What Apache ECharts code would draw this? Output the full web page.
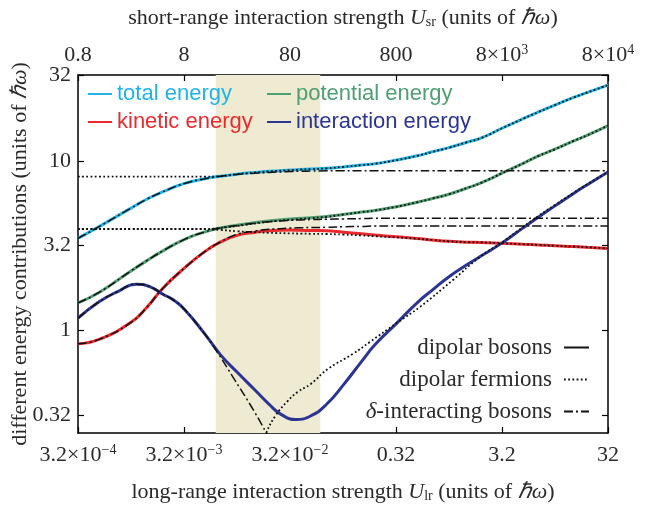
<!DOCTYPE html>
<html><head><meta charset="utf-8">
<script src="https://cdn.jsdelivr.net/npm/echarts@6/dist/echarts.min.js"></script>
<style>html,body{margin:0;padding:0;background:#fff}#c{width:650px;height:506px}</style>
</head><body><div id="c"></div>
<script>
// long-range interaction strength U_lr (bottom axis), sample positions
const uLr = [3.1623e-4, 5e-4, 1e-3, 1.42e-3, 2e-3, 3.2e-3, 5e-3, 7e-3, 1e-2, 1.5e-2, 2e-2, 3.2e-2, 4e-2, 5e-2, 7e-2,
  0.1, 0.15, 0.2, 0.32, 0.5, 0.7, 1, 1.5, 2, 3.2, 5, 7, 10, 15, 20, 31.623];

// dipolar bosons
const totalBosons = [3.50, 4.10, 5.27, 5.96, 6.58, 7.36, 7.85, 8.12, 8.35, 8.55, 8.67, 8.82, 8.88, 8.94, 9.03,
  9.21, 9.44, 9.61, 10.1, 10.7, 11.3, 11.95, 12.9, 13.6, 15.6, 17.7, 19.4, 21.3, 23.6, 25.2, 27.9];
const potentialBosons = [1.46, 1.68, 2.25, 2.59, 2.95, 3.45, 3.82, 4.03, 4.17, 4.33, 4.43, 4.54, 4.59, 4.63, 4.70,
  4.83, 4.99, 5.10, 5.37, 5.70, 6.00, 6.36, 6.94, 7.41, 8.48, 9.65, 10.7, 11.7, 13.1, 14.1, 16.1];
const kineticBosons = [0.837, 0.889, 1.12, 1.38, 1.78, 2.34, 2.93, 3.33, 3.64, 3.80, 3.88, 3.91, 3.90, 3.89, 3.87,
  3.80, 3.72, 3.66, 3.57, 3.49, 3.42, 3.36, 3.32, 3.31, 3.27, 3.23, 3.20, 3.16, 3.13, 3.10, 3.05];
const interactionBosonsX = [3.1623e-4, 5e-4, 7.5e-4, 1.12e-3, 1.5e-3, 2e-3, 2.5e-3, 3.2e-3, 5e-3, 7e-3, 1e-2, 1.5e-2, 2e-2,
  2.6e-2, 3.6e-2, 5e-2, 7e-2, 0.1, 0.15, 0.2, 0.32, 0.5, 0.7, 1, 1.5, 2, 3.2, 5, 7, 10, 15, 20, 31.623];
const interactionBosonsY = [1.185, 1.48, 1.70, 1.88, 1.82, 1.64, 1.52, 1.335, 0.952, 0.721, 0.571, 0.443, 0.370,
  0.322, 0.300, 0.316, 0.369, 0.477, 0.660, 0.826, 1.105, 1.46, 1.74, 2.08, 2.46, 2.75, 3.30, 4.03, 4.67, 5.43, 6.43, 7.21, 8.60];

// dipolar fermions
const totalFermions = [8.07, 8.07, 8.07, 8.07, 8.07, 8.07, 8.07, 8.12, 8.35, 8.55, 8.67, 8.82, 8.88, 8.94, 9.03,
  9.21, 9.44, 9.61, 10.1, 10.7, 11.3, 11.95, 12.9, 13.6, 15.6, 17.7, 19.4, 21.3, 23.6, 25.2, 27.9];
const potentialFermions = [3.97, 3.97, 3.97, 3.97, 3.97, 3.97, 3.97, 4.03, 4.14, 4.28, 4.38, 4.50, 4.55, 4.60, 4.68,
  4.83, 4.99, 5.10, 5.37, 5.70, 6.00, 6.36, 6.94, 7.41, 8.48, 9.65, 10.7, 11.7, 13.1, 14.1, 16.1];
const kineticFermions = [3.97, 3.97, 3.97, 3.97, 3.97, 3.97, 3.97, 3.92, 3.85, 3.80, 3.77, 3.74, 3.73, 3.72, 3.71,
  3.68, 3.64, 3.60, 3.54, 3.48, 3.42, 3.36, 3.32, 3.31, 3.27, 3.23, 3.20, 3.16, 3.13, 3.10, 3.05];
const interactionFermionsX = [0.0172, 0.0189, 0.0230, 0.0300, 0.0376, 0.0499, 0.0722, 0.1243, 0.1798, 0.323, 0.532, 1.091, 1.961,
  3.2, 5, 7, 10, 15, 20, 31.623];
const interactionFermionsY = [0.213, 0.2506, 0.315, 0.385, 0.437, 0.487, 0.596, 0.731, 0.860, 1.112, 1.381, 1.99, 2.72,
  3.33, 4.08, 4.74, 5.50, 6.49, 7.26, 8.60];

// delta-interacting bosons
const totalDelta = [3.50, 4.10, 5.27, 5.96, 6.58, 7.36, 7.85, 8.12, 8.32, 8.46, 8.54, 8.65, 8.68, 8.70, 8.74,
  8.75, 8.75, 8.75, 8.75, 8.75, 8.75, 8.75, 8.75, 8.75, 8.75, 8.75, 8.75, 8.75, 8.75, 8.75, 8.75];
const potentialDelta = [1.46, 1.68, 2.25, 2.59, 2.95, 3.45, 3.82, 4.03, 4.16, 4.31, 4.38, 4.46, 4.49, 4.51, 4.53,
  4.55, 4.57, 4.59, 4.59, 4.59, 4.59, 4.59, 4.59, 4.59, 4.59, 4.59, 4.59, 4.59, 4.59, 4.59, 4.59];
const kineticDelta = [0.837, 0.889, 1.12, 1.38, 1.78, 2.34, 2.93, 3.33, 3.69, 3.87, 3.95, 4.02, 4.04, 4.05, 4.06,
  4.09, 4.11, 4.14, 4.14, 4.14, 4.14, 4.14, 4.14, 4.14, 4.14, 4.14, 4.14, 4.14, 4.14, 4.14, 4.14];
const interactionDeltaX = [3.1623e-4, 5e-4, 7.5e-4, 1.12e-3, 1.5e-3, 2e-3, 2.5e-3, 3.2e-3, 5e-3, 6.16e-3, 9.51e-3, 0.01364, 0.0189, 0.02094];
const interactionDeltaY = [1.185, 1.48, 1.70, 1.88, 1.82, 1.64, 1.52, 1.335, 0.952, 0.790, 0.514, 0.358, 0.2506, 0.222];

// shaded region (in U_lr)
const bandRange = [6.3e-3, 0.061];

// axes
const xRange = [3.1623e-4, 31.623];
const xTopRange = [0.8, 80000];
const yRange = [0.25, 32];
const xTickValues = [3.1623e-4, 3.1623e-3, 0.031623, 0.31623, 3.1623, 31.623];
const xTickLabels = ['3.2×10{sup|−4}', '3.2×10{sup|−3}', '3.2×10{sup|−2}', '0.32', '3.2', '32'];
const xTopTickValues = [0.8, 8, 80, 800, 8000, 80000];
const xTopTickLabels = ['0.8', '8', '80', '800', '8×10{sup|3}', '8×10{sup|4}'];
const yTickValues = [0.32, 1, 3.2, 10, 32];
const yTickLabels = ['0.32', '1', '3.2', '10', '32'];

const seriesNames = ['total energy', 'potential energy', 'kinetic energy', 'interaction energy'];
const seriesColors = ['#21b4e6', '#4f9f72', '#eb2a2e', '#2c3592'];

const zip = (xs, ys) => xs.map((x, i) => [x, ys[i]]);
const pick = (vals, labels) => v => {
  let best = 0, bd = Infinity;
  vals.forEach((t, i) => { const d = Math.abs(Math.log(v) - Math.log(t)); if (d < bd) { bd = d; best = i; } });
  return labels[best];
};

const SERIF = 'Liberation Serif';
const SANS = 'Liberation Sans';
const TXT = '#2a2a2a';
const supRich = { sup: { fontSize: 14, verticalAlign: 'top', lineHeight: 14, fontFamily: SERIF, color: TXT } };
const nameRich = {
  i: { fontStyle: 'italic', fontFamily: SERIF, fontSize: 22, color: TXT },
  sub: { fontSize: 14, verticalAlign: 'bottom', lineHeight: 12, fontFamily: SERIF, color: TXT }
};

const axisLineStyle = { show: true, lineStyle: { color: '#000', width: 1.5 } };
const tickStyle = (vals) => ({ show: true, inside: true, length: 6, lineStyle: { color: '#000', width: 1.2 }, customValues: vals });

const chart = echarts.init(document.getElementById('c'), null, { renderer: 'canvas' });

const SMOOTH = 0.5;
const bosonSets = [[uLr, totalBosons], [uLr, potentialBosons], [uLr, kineticBosons], [interactionBosonsX, interactionBosonsY]];
const fermionData = [totalFermions, potentialFermions, kineticFermions];
const deltaData = [totalDelta, potentialDelta, kineticDelta];

const series = [];
series.push({
  name: 'band', type: 'line', data: zip(uLr, totalBosons), symbol: 'none', silent: true, z: 0,
  lineStyle: { opacity: 0 },
  markArea: { silent: true, itemStyle: { color: '#efebd3' },
    data: [[{ xAxis: bandRange[0] }, { xAxis: bandRange[1] }]] }
});
bosonSets.forEach((d, i) => series.push({
  name: seriesNames[i], type: 'line', data: zip(d[0], d[1]), symbol: 'none', smooth: SMOOTH, z: 2,
  lineStyle: { color: seriesColors[i], width: 3 }, itemStyle: { color: seriesColors[i] }
}));
const fermStyle = { color: '#111', width: 1.8, type: [1.8, 2.4] };
const deltaStyle = { color: '#111', width: 1.5, type: [9, 3, 2, 3] };
fermionData.forEach(d => series.push({
  name: 'dipolar fermions', type: 'line', data: zip(uLr, d), symbol: 'none', smooth: SMOOTH, z: 4,
  lineStyle: fermStyle, itemStyle: { color: '#111' }
}));
series.push({
  name: 'dipolar fermions', type: 'line', data: zip(interactionFermionsX, interactionFermionsY), symbol: 'none', smooth: SMOOTH, z: 4,
  lineStyle: fermStyle, itemStyle: { color: '#111' }
});
deltaData.forEach(d => series.push({
  name: 'δ-interacting bosons', type: 'line', data: zip(uLr, d), symbol: 'none', smooth: SMOOTH, z: 3,
  lineStyle: deltaStyle, itemStyle: { color: '#111' }
}));
series.push({
  name: 'δ-interacting bosons', type: 'line', data: zip(interactionDeltaX, interactionDeltaY), symbol: 'none', smooth: SMOOTH, z: 3,
  lineStyle: deltaStyle, itemStyle: { color: '#111' }
});
series.push({
  name: 'dipolar bosons', type: 'line', data: [], symbol: 'none',
  lineStyle: { color: '#111', width: 3 }, itemStyle: { color: '#111' }
});

const hiddenSymbol = { opacity: 0, color: 'rgba(0,0,0,0)', borderWidth: 0 };
const colorLegend = (names, left) => ({
  orient: 'vertical', left: left, top: 83, padding: 0, itemGap: 6, itemWidth: 24, itemHeight: 14,
  selectedMode: false, itemStyle: hiddenSymbol,
  data: names.map(n => ({ name: n, textStyle: { color: seriesColors[seriesNames.indexOf(n)] } })),
  textStyle: { fontFamily: SANS, fontSize: 22, lineHeight: 22 }
});

chart.setOption({
  animation: false,
  backgroundColor: '#fff',
  grid: { left: 78, right: 42, top: 75, bottom: 73, containLabel: false, outerBoundsMode: 'none' },
  xAxis: [{
    type: 'log', min: xRange[0], max: xRange[1], position: 'bottom',
    axisLine: axisLineStyle, axisTick: tickStyle(xTickValues), splitLine: { show: false }, minorTick: { show: false },
    axisLabel: { customValues: xTickValues, formatter: pick(xTickValues, xTickLabels), margin: 10,
      fontFamily: SERIF, fontSize: 22, color: TXT, lineHeight: 24, rich: supRich },
    name: 'long-range interaction strength {i|U}{sub|lr} (units of {i|ℏω})', nameLocation: 'middle', nameGap: 48,
    nameMoveOverlap: false,
    nameTextStyle: { fontFamily: SERIF, fontSize: 22, color: TXT, rich: nameRich }
  }, {
    type: 'log', min: xTopRange[0], max: xTopRange[1], position: 'top',
    axisLine: axisLineStyle, axisTick: tickStyle(xTopTickValues), splitLine: { show: false }, minorTick: { show: false },
    axisLabel: { customValues: xTopTickValues, formatter: pick(xTopTickValues, xTopTickLabels), margin: 8,
      fontFamily: SERIF, fontSize: 22, color: TXT, lineHeight: 24, rich: supRich },
    name: 'short-range interaction strength {i|U}{sub|sr} (units of {i|ℏω})', nameLocation: 'middle', nameGap: 46,
    nameMoveOverlap: false,
    nameTextStyle: { fontFamily: SERIF, fontSize: 22, color: TXT, rich: nameRich }
  }],
  yAxis: [{
    type: 'log', min: yRange[0], max: yRange[1], position: 'left',
    axisLine: axisLineStyle, axisTick: tickStyle(yTickValues), splitLine: { show: false }, minorTick: { show: false },
    axisLabel: { customValues: yTickValues, formatter: pick(yTickValues, yTickLabels), margin: 7,
      fontFamily: SERIF, fontSize: 22, color: TXT },
    name: 'different energy contributions (units of {i|ℏω})', nameLocation: 'middle', nameGap: 47,
    nameMoveOverlap: false,
    nameTextStyle: { fontFamily: SERIF, fontSize: 22, color: TXT, rich: nameRich }
  }, {
    type: 'log', min: yRange[0], max: yRange[1], position: 'right',
    axisLine: axisLineStyle, axisTick: tickStyle(yTickValues), splitLine: { show: false }, minorTick: { show: false },
    axisLabel: { show: false }
  }],
  legend: [
    colorLegend(['total energy', 'kinetic energy'], 87),
    colorLegend(['potential energy', 'interaction energy'], 266),
    {
      orient: 'vertical', right: 60, top: 336, padding: 0, itemGap: 9, itemWidth: 25, itemHeight: 14,
      align: 'right', selectedMode: false, itemStyle: hiddenSymbol,
      data: ['dipolar bosons', 'dipolar fermions', 'δ-interacting bosons'],
      formatter: n => n === 'δ-interacting bosons' ? '{i|δ}-interacting bosons' : n,
      textStyle: { fontFamily: SERIF, fontSize: 23, lineHeight: 22, color: TXT, padding: [0, 7, 0, 0],
        rich: { i: { fontStyle: 'italic', fontFamily: SERIF, fontSize: 23, color: TXT } } }
    }
  ],
  series: series
});
</script></body></html>
